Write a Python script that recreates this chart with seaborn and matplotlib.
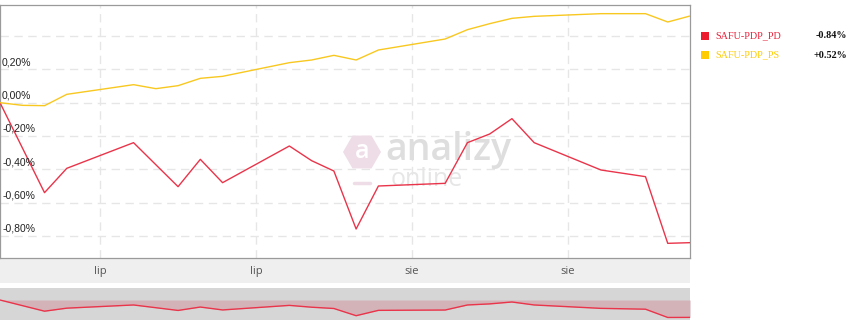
import numpy as np
import pandas as pd
import matplotlib
matplotlib.use("Agg")
import matplotlib.pyplot as plt
import matplotlib.dates as mdates
import matplotlib.patches as mpatches
import matplotlib.transforms as mtrans
from matplotlib.transforms import Affine2D
import seaborn as sns

# ---------------- data ----------------
start_date = "2025-07-15"
pd_days = [0, 2, 3, 6, 8, 9, 10, 13, 14, 15, 16, 17, 20, 21, 22, 23, 24, 27, 29, 30, 31]
pd_values = [0.0, -0.54, -0.394, -0.24, -0.504, -0.34, -0.48, -0.26, -0.348, -0.41, -0.758,
             -0.50, -0.484, -0.24, -0.188, -0.096, -0.24, -0.404, -0.444, -0.844, -0.84]
ps_days = [0, 1, 2, 3, 6, 7, 8, 9, 10, 13, 14, 15, 16, 17, 20, 21, 22, 23, 24, 27, 29, 30, 31]
ps_values = [0.0, -0.016, -0.018, 0.05, 0.108, 0.084, 0.102, 0.146, 0.158, 0.24, 0.256, 0.284,
             0.256, 0.316, 0.382, 0.438, 0.474, 0.506, 0.518, 0.534, 0.534, 0.484, 0.52]
series_names = ["SAFU-PDP_PD", "SAFU-PDP_PS"]
series_last = ["-0.84%", "+0.52%"]
ytick_values = [-0.8, -0.6, -0.4, -0.2, 0.0, 0.2, 0.4]
ytick_labels = ["-0,80%", "-0,60%", "-0,40%", "-0,20%", "0,00%", "0,20%", ""]
xtick_dates = ["2025-07-19 12:00", "2025-07-26 12:00", "2025-08-02 12:00", "2025-08-09 12:00"]
xtick_labels = ["lip", "lip", "sie", "sie"]

t0 = pd.Timestamp(start_date)
df_pd = pd.DataFrame({"date": [t0 + pd.Timedelta(days=d) for d in pd_days], "value": pd_values})
df_ps = pd.DataFrame({"date": [t0 + pd.Timedelta(days=d) for d in ps_days], "value": ps_values})

RED = "#e9344a"
YEL = "#f8c820"
RED_SQ = "#ed1c2e"
YEL_SQ = "#ffcc00"

sns.set_style("white")
plt.rcParams["font.family"] = ["Liberation Sans", "DejaVu Sans"]

W, H, DPI = 850, 320, 100
fig = plt.figure(figsize=(W / DPI, H / DPI), dpi=DPI)
fig.patch.set_facecolor("white")


def rect(x0, y0, x1, y1):
    return [x0 / W, 1 - y1 / H, (x1 - x0) / W, (y1 - y0) / H]


px = Affine2D().scale(1 / DPI, -1 / DPI).translate(0, H / DPI) + fig.dpi_scale_trans

# band under axis
band = fig.add_axes(rect(0, 258, 690, 283))
band.set_facecolor("#efefef")
band.set_xticks([]); band.set_yticks([])
for s in band.spines.values():
    s.set_visible(False)
band.set_zorder(0)

# main axes
ax = fig.add_axes(rect(0, 5, 690, 258))
ax.set_zorder(1)
ax.patch.set_alpha(0)
sns.lineplot(data=df_pd, x="date", y="value", color=RED, lw=1.0, ax=ax, zorder=3)
sns.lineplot(data=df_ps, x="date", y="value", color=YEL, lw=1.0, ax=ax, zorder=3)
xmin, xmax = df_pd["date"].min(), df_pd["date"].max()
ax.set_xlim(xmin, xmax)
ax.set_ylim(-0.932, 0.586)
ax.set_xlabel(""); ax.set_ylabel("")
ax.set_yticks(ytick_values)
ax.set_yticklabels([])
ax.tick_params(axis="y", length=0)
xt = [mdates.date2num(pd.Timestamp(d)) for d in xtick_dates]
ax.set_xticks(xt)
ax.set_xticklabels(xtick_labels, fontsize=8, color="#555555", family=["Open Sans", "DejaVu Sans"])
ax.tick_params(axis="x", length=3.5, width=0.8, color="#dddddd", pad=2.5, direction="out")
ax.grid(True, linestyle=(0, (6, 4)), color="#e6e6e6", lw=1.0)
ax.set_axisbelow(True)
for s in ax.spines.values():
    s.set_color("#9a9a9a")
    s.set_linewidth(0.9)

blend = mtrans.blended_transform_factory(ax.transAxes, ax.transData)
for v, lab in zip(ytick_values, ytick_labels):
    if lab:
        ax.annotate(lab, xy=(0, v), xycoords=blend, xytext=(1.5, 1.5), textcoords="offset points",
                    ha="left", va="bottom", fontsize=7.5, color="#222222")

# watermark
ax.add_patch(mpatches.RegularPolygon((362, 152), 6, radius=19, orientation=np.pi / 6,
                                     transform=px, facecolor="#eedde6", edgecolor="none", zorder=1))
ax.text(362, 151, "a", transform=px, ha="center", va="center", fontsize=18, color="white",
        family=["Open Sans", "DejaVu Sans"], fontweight="semibold", zorder=1)
ax.plot([354, 370], [183, 183], transform=px, color="#eedde6", lw=2.5, zorder=1)
ax.text(385, 160, "analizy", transform=px, ha="left", va="baseline", fontsize=27, color="#dedede",
        family=["Open Sans", "DejaVu Sans"], fontweight="semibold", zorder=1)
ax.text(391, 186, "online", transform=px, ha="left", va="baseline", fontsize=18, color="#e6e6e6",
        family=["Open Sans", "DejaVu Sans"], zorder=1)

# navigator
nav = fig.add_axes(rect(0, 288, 690, 320))
nav.set_facecolor("#d6d6d6")
nav.fill_between(df_pd["date"], df_pd["value"], 0, color="#d4b3b8", lw=0)
sns.lineplot(data=df_pd, x="date", y="value", color=RED, lw=1.0, ax=nav)
nav.set_xlim(xmin, xmax)
nav.set_ylim(-0.966, 0.58)
nav.set_xticks([]); nav.set_yticks([])
nav.set_xlabel(""); nav.set_ylabel("")
for s in nav.spines.values():
    s.set_visible(False)

# legend
rows_y = [36, 55]
sq_colors = [RED_SQ, YEL_SQ]
txt_colors = ["#e8213a", "#ffcc00"]
for yy, name, last, sc, tc in zip(rows_y, series_names, series_last, sq_colors, txt_colors):
    fig.patches.append(mpatches.Rectangle((701, yy - 4), 8, 8, transform=px, facecolor=sc,
                                          edgecolor="none"))
    fig.text(715, yy, name, transform=px, ha="left", va="center", fontsize=7.3, color=tc,
             family=["Liberation Serif", "DejaVu Serif"])
    fig.text(847, yy, last, transform=px, ha="right", va="center", fontsize=7.3, color="#111111",
             family=["Liberation Serif", "DejaVu Serif"], fontweight="bold")

fig.savefig("out.png", dpi=DPI, facecolor="white")
